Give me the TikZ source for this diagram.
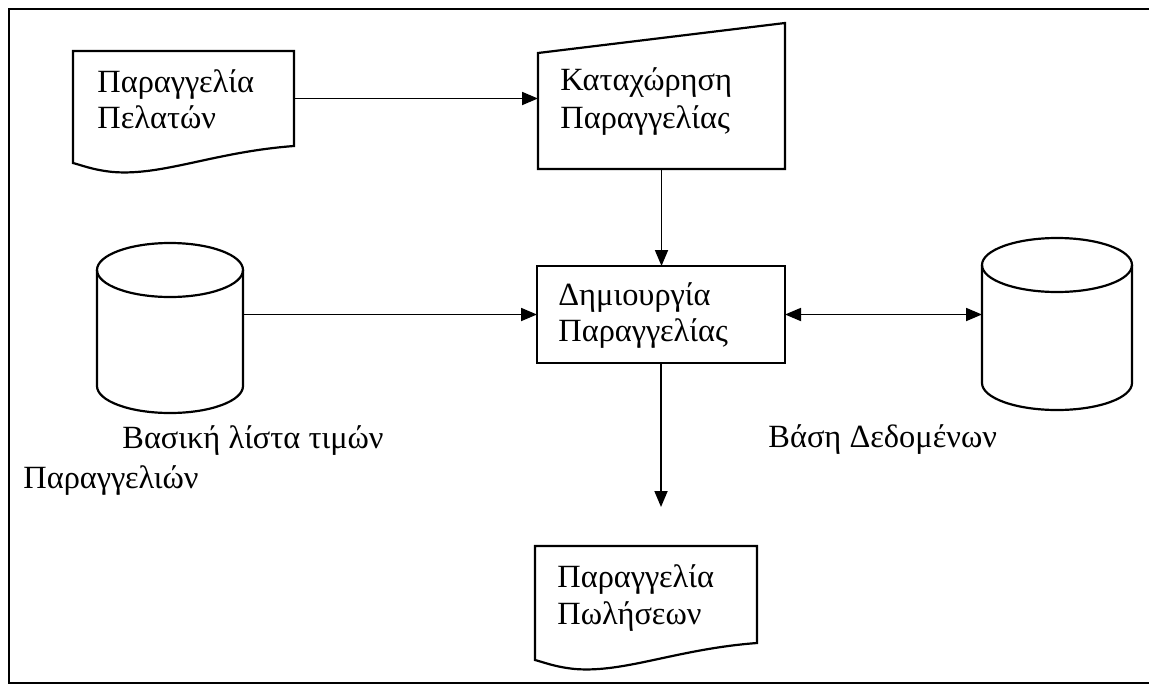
\documentclass[tikz,border=0pt]{standalone}
\usepackage{fontspec}
\setmainfont{Liberation Serif}
\usetikzlibrary{arrows.meta,calc,fit}

\tikzset{
  frameline/.style={line width=1.2pt},
  shapeline/.style={line width=1.1pt, line join=miter},
  area/.style={inner sep=0pt, outer sep=0pt},
  txt/.style={anchor=base west, inner sep=0pt, font=\fontsize{16.2pt}{19pt}\selectfont},
  flow/.style={line width=0.9pt, -{Triangle[length=8pt,width=6.5pt]}},
  biflow/.style={line width=0.9pt, {Triangle[length=8pt,width=6.5pt]}-{Triangle[length=8pt,width=6.5pt]}}
}

\begin{document}
\begin{tikzpicture}[x=0.5pt, y=-0.5pt]
  \useasboundingbox (0,0) rectangle (1149,685);

  % outer frame (open on the right)
  \draw[frameline] (1149,9) -- (9,9) -- (9,683) -- (1149,683);

  % areas of the shapes
  \node[area, fit={(73,51) (294,146)}] (pel) {};
  \node[area, fit={(538,23) (785,169)}] (kat) {};
  \node[area, draw, shapeline, fit={(537,266) (785,363)}] (dem) {};
  \node[area, fit={(97,243) (243,413)}] (lst) {};
  \node[area, fit={(982,238) (1132,410)}] (db) {};
  \node[area, fit={(535,546) (757,643)}] (pol) {};

  % document shapes with a wavy lower edge
  \foreach \d in {pel, pol}{
    \draw[shapeline] (\d.north west) -- (\d.north east) -- (\d.south east)
      .. controls ($(\d.south east)+(-80,6)$) and ($(\d.south west)+(90,30)$) ..
      ($(\d.south west)+(40,26)$)
      .. controls ($(\d.south west)+(20,24)$) and ($(\d.south west)+(8,19)$) ..
      ($(\d.south west)+(0,17)$) -- cycle;
  }

  % manual input shape
  \draw[shapeline] ($(kat.north west)+(0,30)$) -- (kat.north east) -- (kat.south east)
    -- (kat.south west) -- cycle;

  % cylinders
  \draw[shapeline] ($(lst.north west)+(0,27)$) -- ($(lst.south west)+(0,-27)$)
    arc[start angle=180, end angle=360, x radius=36.5pt, y radius=13.5pt]
    -- ($(lst.north east)+(0,27)$);
  \draw[shapeline] ($(lst.north)+(0,27)$) ellipse [x radius=36.5pt, y radius=13.5pt];

  \draw[shapeline] ($(db.north west)+(0,27)$) -- ($(db.south west)+(0,-27)$)
    arc[start angle=180, end angle=360, x radius=37.5pt, y radius=13.5pt]
    -- ($(db.north east)+(0,27)$);
  \draw[shapeline] ($(db.north)+(0,27)$) ellipse [x radius=37.5pt, y radius=13.5pt];

  % texts
  \node[txt] (pel1) at (97,92) {Παραγγελία};
  \node[txt] (pel2) at (97,128) {Πελατών};
  \node[txt] (kat1) at (560,90) {Καταχώρηση};
  \node[txt] (kat2) at (560,128) {Παραγγελίας};
  \node[txt] (dem1) at (558,305) {Δημιουργία};
  \node[txt] (dem2) at (558,341) {Παραγγελίας};
  \node[txt] (pol1) at (557,587) {Παραγγελία};
  \node[txt] (pol2) at (557,624) {Πωλήσεων};
  \node[txt] (lst1) at (122,448) {Βασική λίστα τιμών};
  \node[txt] (lst2) at (23,488) {Παραγγελιών};
  \node[txt] (db1) at (768,447) {Βάση Δεδομένων};

  % connectors
  \draw[flow] (pel.east) -- (pel.east -| kat.west);
  \draw[flow] (kat.south) -- (kat.south |- dem.north);
  \draw[flow] (lst.east |- dem.west) -- (dem.west);
  \draw[biflow] (dem.east) -- (dem.east -| db.west);
  \coordinate (outend) at (660,507);
  \draw[flow] (dem.south) -- (dem.south |- outend);
\end{tikzpicture}
\end{document}
